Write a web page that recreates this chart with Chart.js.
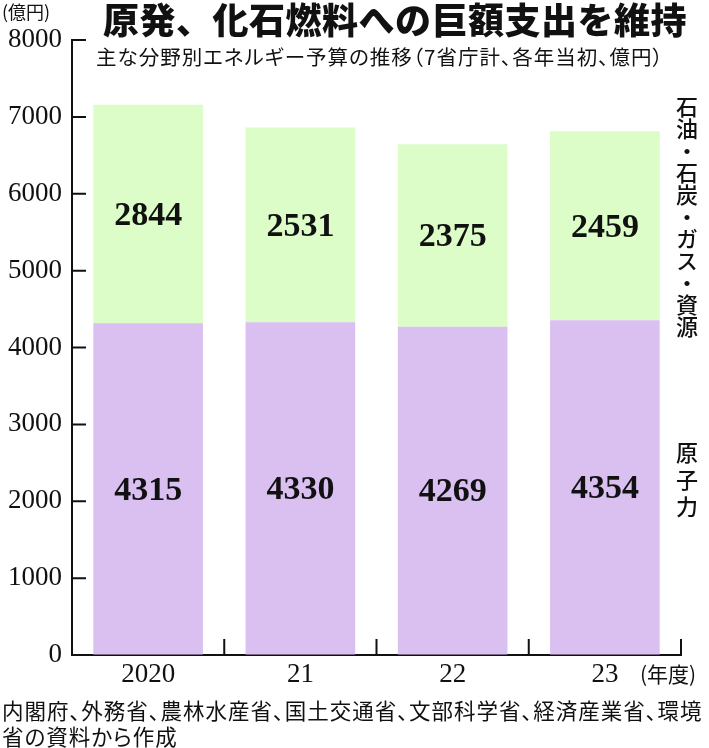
<!DOCTYPE html>
<html>
<head>
<meta charset="utf-8">
<script src="https://cdn.jsdelivr.net/npm/chart.js@4"></script>
<style>
  html, body { margin: 0; padding: 0; background: #fff; }
  #wrap { position: relative; width: 709px; height: 748px; overflow: hidden; font-family: "Noto Sans CJK JP", sans-serif; color: #111; }
  #c { position: absolute; left: 0; top: 0; }
  .t { position: absolute; white-space: nowrap; line-height: 1; }
  #title { left: 103px; top: 0px; font-size: 36px; font-weight: 900; letter-spacing: 0.5px; }
  #sub { left: 96px; top: 46px; font-size: 20.5px; font-feature-settings: "palt"; letter-spacing: 1px; }
  #unit { left: 2px; top: 2px; font-size: 18px; }
  #nendo { left: 640px; top: 663px; font-size: 21px; font-feature-settings: "palt"; }
  #foot { left: 2px; top: 697px; font-size: 21.5px; line-height: 26px; font-feature-settings: "palt"; letter-spacing: 1px; }
  .v { writing-mode: vertical-rl; font-size: 22px; font-weight: 500; }
  #lab1 { left: 676px; top: 96px; }
  #lab2 { left: 676px; top: 442px; letter-spacing: 5px; }
</style>
</head>
<body>
<div id="wrap">
  <canvas id="c" width="709" height="748"></canvas>
  <div class="t" id="unit">(億円)</div>
  <div class="t" id="title">原発、化石燃料への巨額支出を維持</div>
  <div class="t" id="sub">主な分野別エネルギー予算の推移（7省庁計、各年当初、億円）</div>
  <div class="t v" id="lab1">石油・石炭・ガス・資源</div>
  <div class="t v" id="lab2">原子力</div>
  <div class="t" id="nendo">(年度)</div>
  <div class="t" id="foot">内閣府、外務省、農林水産省、国土交通省、文部科学省、経済産業省、環境<br>省の資料から作成</div>
</div>
<script>
const years = ['2020', '21', '22', '23'];
const nuclear = [4315, 4330, 4269, 4354];
const fossil = [2844, 2531, 2375, 2459];
const yTicks = [0, 1000, 2000, 3000, 4000, 5000, 6000, 7000, 8000];

// inward ticks on both axes + value labels in the bars
const marks = {
  id: 'marks',
  afterDatasetsDraw(chart) {
    const ctx = chart.ctx, x = chart.scales.x, y = chart.scales.y, a = chart.chartArea;
    ctx.save();
    ctx.strokeStyle = '#111';
    ctx.lineWidth = 2;
    ctx.beginPath();
    yTicks.forEach(v => {
      const py = y.getPixelForValue(v);
      if (v === 0) return;
      ctx.moveTo(a.left, py); ctx.lineTo(a.left + 14, py);
    });
    for (let i = 0; i < years.length; i++) {
      const px = i < years.length - 1 ? (x.getPixelForValue(i) + x.getPixelForValue(i + 1)) / 2 : a.right;
      ctx.moveTo(px, a.bottom); ctx.lineTo(px, a.bottom - 16);
    }
    ctx.stroke();

    ctx.fillStyle = '#111';
    ctx.font = 'bold 34px "Liberation Serif", serif';
    ctx.textAlign = 'center';
    ctx.textBaseline = 'middle';
    chart.data.datasets.forEach((ds, di) => {
      chart.getDatasetMeta(di).data.forEach((bar, i) => {
        ctx.fillText(String(ds.data[i]), bar.x, (bar.y + bar.base) / 2 + 2);
      });
    });
    ctx.restore();
  }
};

new Chart(document.getElementById('c'), {
  type: 'bar',
  data: {
    labels: years,
    datasets: [
      { label: '原子力', data: nuclear, backgroundColor: '#d9c0f0', borderWidth: 0 },
      { label: '石油・石炭・ガス・資源', data: fossil, backgroundColor: '#dcfcc8', borderWidth: 0 }
    ]
  },
  options: {
    responsive: false,
    animation: false,
    devicePixelRatio: 1,
    layout: { padding: { left: 0, top: 40, right: 28, bottom: 0 } },
    plugins: { legend: { display: false }, tooltip: { enabled: false } },
    datasets: { bar: { categoryPercentage: 0.72, barPercentage: 1 } },
    scales: {
      x: {
        stacked: true,
        grid: { display: true, drawOnChartArea: false, drawTicks: false },
        border: { display: true, color: '#111', width: 2 },
        ticks: { color: '#111', padding: 4, font: { family: '"Liberation Serif", serif', size: 27 } },
        afterFit: s => { s.height = 93; }
      },
      y: {
        stacked: true,
        min: 0,
        max: 8000,
        afterBuildTicks: s => { s.ticks = yTicks.map(v => ({ value: v })); },
        grid: { display: true, drawOnChartArea: false, drawTicks: false },
        border: { display: true, color: '#111', width: 2 },
        ticks: { color: '#111', padding: 10, font: { family: '"Liberation Serif", serif', size: 27 }, callback: v => String(v) },
        afterFit: s => { s.width = 72; }
      }
    }
  },
  plugins: [marks]
});
</script>
</body>
</html>
